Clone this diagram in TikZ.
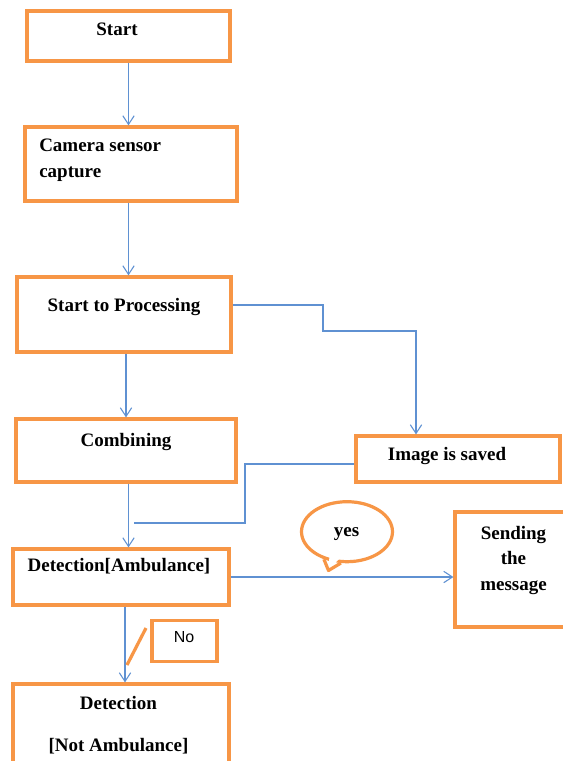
\documentclass[tikz,border=0pt]{standalone}
\usepackage{fontspec}
\setmainfont{Liberation Serif}
\newfontfamily\arialfont{Liberation Sans}
\usetikzlibrary{arrows.meta,shapes.geometric,calc}
\definecolor{boxorange}{HTML}{F79646}
\definecolor{lineblue}{RGB}{95,145,210}
\begin{document}
\begin{tikzpicture}[x=0.75pt,y=-0.75pt,
	box/.style 2 args={draw=boxorange, line width=2.4pt, inner sep=0pt, minimum width=#1*0.75pt, minimum height=#2*0.75pt},
	txt/.style={font=\fontsize{14.25pt}{19.3pt}\selectfont\bfseries, inner sep=0pt, anchor=base},
	flow/.style={draw=lineblue, line width=0.8pt},
	arr/.style={flow, -{Straight Barb[length=6.5pt,width=8.5pt]}}]
	% page
	\fill[white] (0,0) rectangle (563,761);
	\useasboundingbox (0,0) rectangle (563,761);
	\clip (0,0) rectangle (563,761);
	% columns of the arrows
	\coordinate (spine) at (128.5,0);
	\coordinate (spineB) at (125,0);
	% boxes
	\node[box={203}{50}] (start) at (128.5,36) {};
	\node[box={212}{74}] (camera) at (131,164) {};
	\node[box={214}{75}] (proc) at (124,314.5) {};
	\node[box={220}{63}] (comb) at (126,450.5) {};
	\node[box={204}{46}] (saved) at (458,459) {};
	\node[box={216}{56}] (detA) at (121,577) {};
	\node[box={115}{115}] (send) at (512.5,569.5) {};
	\node[box={216}{91}] (notA) at (121,729.5) {};
	\node[box={65}{41}] (no) at (184.5,641) {};
	% texts (multi-line ones sit on their last baseline)
	\node[txt] (start-t) at (117,35.5) {Start};
	\node[txt, align=left, anchor=base west] (camera-t) at (39,177) {Camera sensor\\capture};
	\node[txt] (proc-t) at (124,311.7) {Start to Processing};
	\node[txt] (comb-t) at (126,446) {Combining};
	\node[txt] (saved-t) at (447,460) {Image is saved};
	\node[txt] (detA-t) at (119,571) {Detection[Ambulance]};
	\node[txt, align=center] (send-t) at (513.5,590.7) {Sending\\the\\message};
	\node[txt, align=center] (notA-t) at (118.5,751) {Detection\\[12pt]{[Not Ambulance]}};
	\node[font=\arialfont\fontsize{12pt}{14pt}\selectfont, inner sep=0pt, anchor=base] (no-t) at (184,642.7) {No};
	% yes bubble
	\node[ellipse, draw=boxorange, line width=2.4pt, fill=white, minimum width=91*0.75pt, minimum height=60*0.75pt, inner sep=0pt] (yes) at (347,531.7) {};
	\node[txt] (yes-t) at (346.5,536.7) {yes};
	\coordinate (tip) at (328.5,570.5);
	\fill[white] ($(yes.-130)!0.25!(yes.center)$) -- (tip) -- ($(yes.-101)!0.25!(yes.center)$) -- cycle;
	\draw[boxorange, line width=2.4pt, line join=round] (yes.-130) -- (tip) -- (yes.-101);
	% main column
	\draw[arr] (start.south -| spine) -- (camera.north -| spine);
	\draw[arr] (camera.south -| spine) -- (proc.north -| spine);
	\draw[arr] (proc.south -| comb.north) -- (comb.north);
	\draw[arr] (comb.south -| spine) -- (detA.north -| spine);
	\draw[arr] (detA.south -| spineB) -- (notA.north -| spineB);
	% side branch to the saved image
	\coordinate (bendA) at (323,305);
	\coordinate (bendB) at (416,331);
	\draw[arr] (proc.east |- bendA) -| (bendA |- bendB) -| (bendB |- saved.north);
	% back from the saved image
	\coordinate (bendC) at (245,464);
	\coordinate (joinA) at (134,523);
	\draw[flow] (saved.west |- bendC) -- (bendC) |- (joinA);
	% yes branch
	\draw[arr] (detA.east) -- (detA.east -| send.west);
	% no mark
	\draw[boxorange, line width=2.4pt] (146,628) -- (127,665);
\end{tikzpicture}
\end{document}
